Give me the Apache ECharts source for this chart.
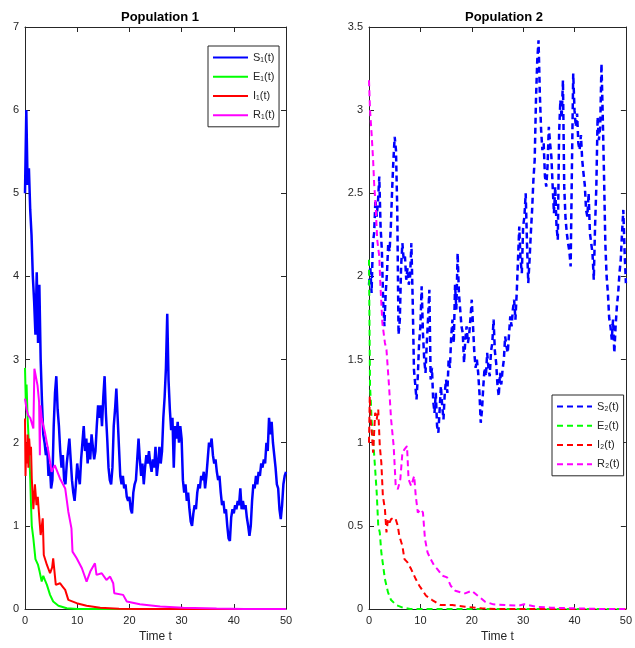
<!DOCTYPE html>
<html>
<head>
<meta charset="utf-8">
<script src="https://cdn.jsdelivr.net/npm/echarts@6/dist/echarts.min.js"></script>
<style>
html, body { margin: 0; padding: 0; background: #fff; }
#chart { width: 635px; height: 648px; }
</style>
</head>
<body>
<div id="chart"></div>
<script>
// sampling grid of the S paths (every 0.25 time units)
var tStep = 0.25;

// Population 1, S1 read at t = 0, 0.25, 0.5 ... 50
var s1 = [
  5.0, 6.0, 5.1, 5.3,   4.8, 4.5, 4.0, 3.7,   3.3, 4.05, 3.2, 3.9,  3.0, 2.5, 2.1, 2.0,
  1.85, 1.95, 1.6, 1.75, 1.45, 1.55, 2.2, 2.6, 2.8, 2.4, 2.2, 1.9,  1.7, 1.85, 1.55, 1.5,
  1.75, 1.9, 2.05, 1.8, 1.55, 1.4, 1.3, 1.5,  1.75, 1.6, 1.5, 1.8,  2.0, 2.2, 1.9, 2.05,
  1.75, 2.0, 1.8, 2.1,  1.95, 1.8, 1.9, 2.2,  2.45, 2.3, 2.45, 2.2, 2.55, 2.8, 2.35, 2.05,
  1.7, 1.55, 1.5, 1.7,  2.2, 2.4, 2.65, 2.3,  1.95, 1.6, 1.5, 1.6,  1.45, 1.5, 1.35, 1.3,
  1.35, 1.2, 1.15, 1.4, 1.5, 1.55, 1.8, 2.05, 1.8, 1.6, 1.75, 1.5,  1.7, 1.85, 1.75, 1.9,
  1.75, 1.65, 1.8, 1.7, 1.95, 1.6, 1.75, 1.95, 1.75, 1.9, 2.3, 2.55, 2.9, 3.55, 2.75, 2.4,
  2.15, 2.3, 1.7, 2.2,  2.05, 2.25, 2.0, 2.2,  2.05, 1.55, 1.4, 1.5,  1.3, 1.4, 1.2, 1.05,
  1.0, 1.15, 1.25, 1.2, 1.4, 1.5, 1.45, 1.6,  1.55, 1.65, 1.45, 1.6, 1.8, 2.0, 1.95, 2.05,
  1.85, 1.75, 1.8, 1.65, 1.55, 1.6, 1.4, 1.25, 1.3, 1.15, 1.2, 1.0,  0.85, 0.82, 1.1, 1.2,
  1.15, 1.25, 1.2, 1.3, 1.25, 1.45, 1.2, 1.3, 1.2, 1.25, 1.1, 1.0,  0.88, 1.0, 1.3, 1.5,
  1.45, 1.6, 1.5, 1.65, 1.6, 1.75, 1.7, 1.8,  1.75, 2.0, 1.9, 2.3,  2.1, 2.25, 2.0, 1.85,
  1.7, 1.5, 1.45, 1.2,  1.08, 1.25, 1.5, 1.6,
  1.65
];

// Population 2, S2 on the same grid
var s2 = [
  1.95, 2.06, 1.9, 2.2,  2.26, 2.46, 2.36, 2.45, 2.6, 2.3, 2.16, 1.86, 1.7, 1.9, 2.02, 2.2,
  2.15, 2.3, 2.52, 2.7,  2.84, 2.76, 2.4, 1.65,  1.74, 2.06, 2.2, 2.1,  2.12, 1.98, 2.05, 1.95,
  2.0, 2.2, 1.86, 1.44,  1.35, 1.26, 1.4, 1.6,   1.7, 1.94, 1.66, 1.5,  1.42, 1.6, 1.75, 1.92,
  1.38, 1.45, 1.25, 1.18, 1.3, 1.1, 1.06, 1.2,  1.34, 1.22, 1.14, 1.3, 1.38, 1.3, 1.5, 1.45,
  1.64, 1.74, 1.6, 1.95, 1.8, 2.14, 1.9, 1.8,   1.7, 1.66, 1.48, 1.62, 1.7, 1.6, 1.65, 1.75,
  1.86, 1.7, 1.54, 1.45, 1.5, 1.42, 1.3, 1.12,  1.2, 1.34, 1.45, 1.4,  1.54, 1.45, 1.4, 1.55,
  1.6, 1.74, 1.55, 1.48, 1.35, 1.28, 1.42, 1.35, 1.44, 1.5, 1.64, 1.58, 1.54, 1.65, 1.76, 1.7,
  1.8, 1.86, 1.74, 1.9,  2.1, 2.3, 2.1, 2.02,   2.3, 2.36, 2.5, 2.2,   1.96, 2.1, 2.26, 2.4,
  2.58, 2.7, 3.06, 3.3,  3.42, 3.1, 2.88, 2.76, 2.8, 2.6, 2.54, 2.66,  2.9, 2.8, 2.72, 2.54,
  2.38, 2.54, 2.3, 2.22, 2.86, 3.06, 2.95, 3.18, 2.54, 2.35, 2.26, 2.2, 2.15, 2.06, 2.66, 3.22,
  3.0, 2.9, 2.98, 2.8,   2.76, 2.85, 2.7, 2.62,  2.55, 2.4, 2.36, 2.5,  2.26, 2.2, 2.14, 1.98,
  2.3, 2.54, 2.96, 2.82, 2.9, 3.28, 2.96, 2.6,   2.2, 2.0, 1.9, 1.75,   1.7, 1.62, 1.74, 1.54,
  1.7, 1.82, 1.9, 2.02,  2.1, 2.26, 2.4, 2.15,
  1.96
];

// decaying classes, [t, value]
var e1 = [[0,2.9],[0.15,2.5],[0.3,2.7],[0.5,2.3],[0.6,2.17],[0.8,1.9],[1,1.57],[1.15,1.25],[1.3,1.0],
  [1.6,0.85],[2,0.6],[2.5,0.53],[2.8,0.45],[3.2,0.33],[3.5,0.4],[3.8,0.35],[4.2,0.29],[4.8,0.17],
  [5.4,0.09],[6.4,0.04],[8,0.01],[10,0],[50,0]];
var i1 = [[0,2.29],[0.1,1.6],[0.25,2.0],[0.4,1.75],[0.5,2.1],[0.65,1.7],[0.8,2.05],[1,1.85],[1.15,1.95],
  [1.3,1.57],[1.6,1.2],[1.9,1.5],[2.2,1.25],[2.45,1.35],[2.7,1.13],[3,0.89],[3.4,1.09],[3.6,0.65],
  [4.2,0.53],[4.8,0.43],[5.2,0.5],[5.4,0.61],[5.9,0.29],[6.7,0.31],[7.2,0.27],[7.7,0.23],[8.3,0.11],
  [9.9,0.07],[11.8,0.04],[14.4,0.015],[18,0.003],[22,0],[50,0]];
var r1 = [[0,2.53],[0.3,2.4],[0.6,2.33],[1,2.3],[1.3,2.29],[1.6,2.17],[1.8,2.89],[2.1,2.89],[2.4,2.69],
  [2.7,2.49],[2.85,1.85],[2.95,2.45],[3.2,2.29],[3.8,2.13],[4.5,1.89],[5.1,1.65],[5.7,1.73],[6.7,1.57],
  [7.7,1.45],[8.3,1.17],[8.9,0.97],[9.1,0.69],[9.9,0.61],[10.9,0.49],[11.8,0.33],[12.5,0.45],[13.4,0.55],
  [13.7,0.41],[14.7,0.43],[15.6,0.35],[16.3,0.39],[16.9,0.31],[17.1,0.19],[18.8,0.17],[19.5,0.09],
  [22,0.056],[25.9,0.03],[30.3,0.015],[36.7,0.005],[42,0],[50,0]];

var e2 = [[0,2.1],[0.1,1.7],[0.2,1.34],[0.35,1.25],[0.5,1.14],[0.8,1.02],[1.2,0.84],[1.5,0.7],[1.8,0.5],
  [2.1,0.46],[2.4,0.34],[3.1,0.18],[3.7,0.1],[4.3,0.054],[5.3,0.024],[6.6,0.008],[8,0],[50,0]];
var i2 = [[0,1.0],[0.15,1.28],[0.3,1.14],[0.5,1.08],[0.8,0.94],[1.2,1.18],[1.5,1.14],[1.8,1.2],[2.1,0.98],
  [2.4,0.88],[2.7,0.68],[3.1,0.6],[3.4,0.46],[3.7,0.54],[4,0.52],[4.3,0.54],[4.8,0.55],[5.2,0.54],
  [5.6,0.5],[5.9,0.44],[6.5,0.38],[6.9,0.3],[7.5,0.28],[8.2,0.24],[9.1,0.18],[9.8,0.14],[11.1,0.08],
  [12.3,0.054],[13.9,0.024],[16.2,0.024],[18.7,0.014],[21.9,0.004],[25,0],[50,0]];
var r2 = [[0,3.18],[0.2,3.0],[0.5,2.86],[0.8,2.7],[1,2.56],[1.3,2.42],[1.6,2.22],[2,2.12],[2.2,1.96],
  [2.6,1.72],[3.1,1.6],[3.4,1.56],[3.9,1.34],[4.3,1.14],[4.8,0.98],[5.2,0.74],[5.6,0.72],[6.1,0.78],
  [6.5,0.94],[6.9,0.96],[7.4,0.98],[7.7,0.78],[8.2,0.74],[8.8,0.8],[9.1,0.68],[9.5,0.58],[10.1,0.6],
  [10.5,0.58],[10.9,0.42],[11.4,0.34],[12,0.3],[12.7,0.26],[13.3,0.24],[14.3,0.2],[15.2,0.19],
  [15.9,0.14],[16.8,0.11],[17.8,0.1],[18.7,0.094],[20,0.11],[21,0.084],[22.6,0.044],[24.2,0.028],
  [26.4,0.024],[29,0.02],[30.2,0.028],[32.8,0.012],[35.4,0.008],[40,0.004],[45,0],[50,0]];

var names1 = ['S\u2081(t)', 'E\u2081(t)', 'I\u2081(t)', 'R\u2081(t)'];
var names2 = ['S\u2082(t)', 'E\u2082(t)', 'I\u2082(t)', 'R\u2082(t)'];
var colors = ['#0000ff', '#00ff00', '#ff0000', '#ff00ff'];

function onGrid(vals) {
  return vals.map(function (v, k) { return [k * tStep, v]; });
}

var FONT = '"Liberation Sans", Arial, sans-serif';
var AX = '#262626';

function xAx(grid, top) {
  return {
    type: 'value', gridIndex: grid, position: top ? 'top' : 'bottom',
    min: 0, max: 50, interval: 10,
    name: top ? '' : 'Time t', nameLocation: 'middle', nameGap: 22,
    nameTextStyle: { color: AX, fontSize: 12, fontFamily: FONT },
    axisLine: { show: true, onZero: false, lineStyle: { color: AX, width: 1 } },
    axisTick: { show: true, inside: true, length: 5, lineStyle: { color: AX } },
    axisLabel: { show: !top, color: AX, fontSize: 11, fontFamily: FONT, margin: 6 },
    splitLine: { show: false }
  };
}
function yAx(grid, right, max, step) {
  return {
    type: 'value', gridIndex: grid, position: right ? 'right' : 'left',
    min: 0, max: max, interval: step,
    axisLine: { show: true, onZero: false, lineStyle: { color: AX, width: 1 } },
    axisTick: { show: true, inside: true, length: 5, lineStyle: { color: AX } },
    axisLabel: { show: !right, color: AX, fontSize: 11, fontFamily: FONT, margin: 6 },
    splitLine: { show: false }
  };
}

function line(name, data, color, xi, yi, dashed, w) {
  return {
    name: name, type: 'line', data: data, xAxisIndex: xi, yAxisIndex: yi,
    symbol: 'none', showSymbol: false, clip: true, animation: false,
    lineStyle: { color: color, width: w, type: dashed ? [6, 4] : 'solid' },
    itemStyle: { color: color }
  };
}

var left = [onGrid(s1), e1, i1, r1];
var right = [onGrid(s2), e2, i2, r2];
var series = [];
left.forEach(function (d, k) { series.push(line(names1[k], d, colors[k], 0, 0, false, k ? 2 : 2.5)); });
right.forEach(function (d, k) { series.push(line(names2[k], d, colors[k], 2, 2, true, k ? 2 : 2.5)); });

function legendAt(names, l, t) {
  return {
    data: names, orient: 'vertical', left: l, top: t,
    backgroundColor: '#fff', borderColor: AX, borderWidth: 1, borderRadius: 0,
    padding: [6, 4, 6, 4], itemGap: 8, itemWidth: 35, itemHeight: 14,
    itemStyle: { opacity: 0 },
    lineStyle: { width: 2 },
    textStyle: { color: AX, fontSize: 11, fontFamily: FONT },
    selectedMode: false
  };
}

var chart = echarts.init(document.getElementById('chart'));
chart.setOption({
  backgroundColor: '#fff',
  animation: false,
  title: [
    { text: 'Population 1', left: 155, top: 6, textAlign: 'center',
      textStyle: { fontSize: 13, fontWeight: 'bold', color: '#000', fontFamily: FONT } },
    { text: 'Population 2', left: 499, top: 6, textAlign: 'center',
      textStyle: { fontSize: 13, fontWeight: 'bold', color: '#000', fontFamily: FONT } }
  ],
  legend: [legendAt(names1, 208, 46), legendAt(names2, 552, 395)],
  grid: [
    { left: 25, top: 27, width: 261, height: 584 },
    { left: 369, top: 27, width: 260, height: 584 }
  ],
  xAxis: [xAx(0, false), xAx(0, true), xAx(1, false), xAx(1, true)],
  yAxis: [yAx(0, false, 7, 1), yAx(0, true, 7, 1), yAx(1, false, 3.5, 0.5), yAx(1, true, 3.5, 0.5)],
  series: series
});
</script>
</body>
</html>
